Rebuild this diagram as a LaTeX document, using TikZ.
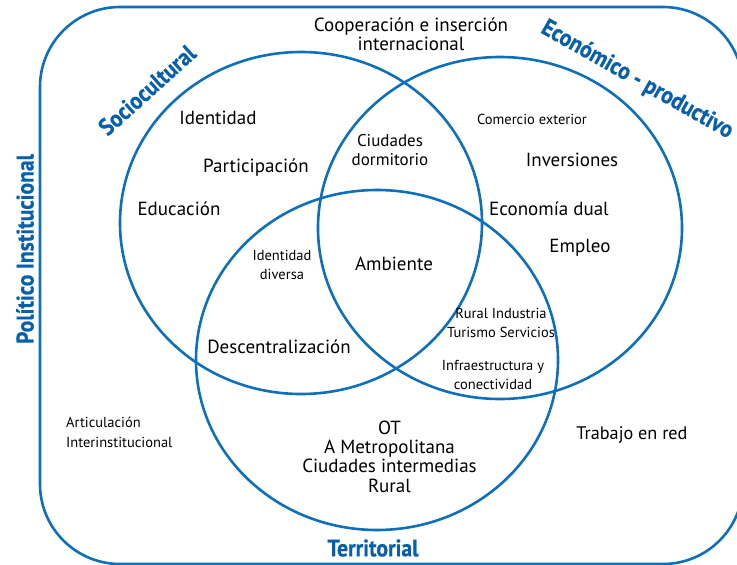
\documentclass[tikz,border=0pt]{standalone}
\usepackage{fontspec}
\setmainfont{PT Sans}
\newfontfamily\titlefont[FakeStretch=0.9,FakeBold=0.6]{PT Sans Bold}
\definecolor{vblue}{RGB}{14,112,186}
\definecolor{tblue}{RGB}{8,96,170}
\begin{document}
\begin{tikzpicture}[x=1pt,y=-1pt,
  ring/.style={draw=vblue, line width=2.6pt},
  big/.style={font=\fontsize{19}{19.3}\selectfont, inner sep=0pt, align=center},
  mid/.style={font=\fontsize{17}{19}\selectfont, inner sep=0pt, align=center},
  small/.style={font=\fontsize{14.5}{19}\selectfont, inner sep=0pt, align=center},
  ttl/.style={font=\titlefont\fontsize{24}{24}\selectfont, text=tblue, inner sep=0pt}]
\useasboundingbox (0,0) rectangle (737,565);
% frame
\draw[ring, rounded corners=80pt] (40,7) rectangle (743,564);
% circles
\draw[ring] (301,223) ellipse [x radius=181pt, y radius=171pt];
\draw[ring] (500,228) ellipse [x radius=182pt, y radius=171pt];
\draw[ring] (377,360) ellipse [x radius=181pt, y radius=170pt];
% titles
\node[ttl, rotate=90] (pol) at (25,249) {Político Institucional};
\node[ttl] (ter) at (373,548) {Territorial};
\node[ttl, rotate=42] (soc) at (147,90) {Sociocultural};
\node[ttl, rotate=-29.5] (eco) at (637,80) {Económico - productivo};
% texts
\node[big] (coop) at (411,34) {Cooperación e inserción\\internacional};
\node[big, anchor=base] (ide) at (218,124) {Identidad};
\node[big, anchor=base] (par) at (256,172) {Participación};
\node[big, anchor=base] (edu) at (179,215) {Educación};
\node[mid] (ciu) at (390,150) {Ciudades\\dormitorio};
\node[small, anchor=base] (com) at (532,124) {Comercio exterior};
\node[big, anchor=base] (inv) at (572,166) {Inversiones};
\node[big, anchor=base] (ecd) at (549,215) {Economía dual};
\node[big, anchor=base] (emp) at (580,252) {Empleo};
\node[small] (idd) at (282,265) {Identidad\\diversa};
\node[big, anchor=base] (amb) at (394,270) {Ambiente};
\node[big, anchor=base] (des) at (279,353) {Descentralización};
\node[small] (rur) at (501,323) {Rural Industria\\Turismo Servicios};
\node[small] (inf) at (493,375) {Infraestructura y\\conectividad};
\node[big] (ot) at (389.5,456.5) {OT\\A Metropolitana\\Ciudades intermedias\\Rural};
\node[small, align=left, anchor=west, font=\fontsize{14.5}{20}\selectfont] (art) at (66,432) {Articulación\\Interinstitucional};
\node[big, anchor=base, font=\fontsize{18.2}{19}\selectfont] (tra) at (632,439) {Trabajo en red};
\end{tikzpicture}
\end{document}
